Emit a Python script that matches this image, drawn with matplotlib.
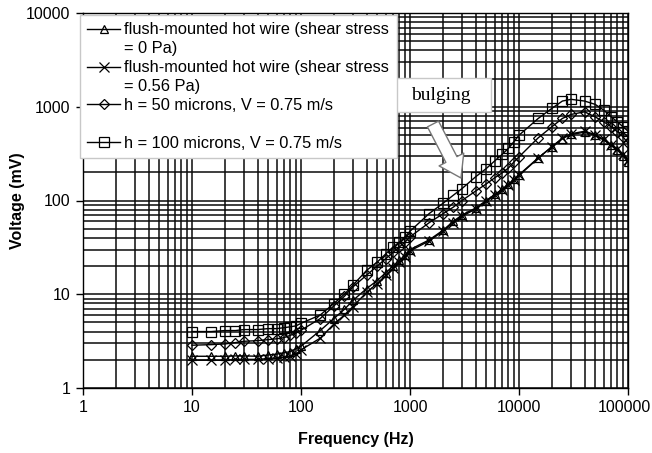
import matplotlib
matplotlib.use("Agg")
import matplotlib.pyplot as plt
from matplotlib.lines import Line2D
from matplotlib.patches import Rectangle
from matplotlib.transforms import ScaledTranslation
from matplotlib.ticker import LogLocator, NullFormatter

plt.rcParams["font.family"] = ["Liberation Sans", "DejaVu Sans"]

# frequency points (Hz), same for all four traces
freq = [10, 15, 20, 25, 30, 40, 50, 60, 70, 80, 90,
        100, 150, 200, 250, 300, 400, 500, 600, 700, 800, 900,
        1000, 1500, 2000, 2500, 3000, 4000, 5000, 6000, 7000, 8000, 9000,
        10000, 15000, 20000, 25000, 30000, 40000, 50000, 60000, 70000, 80000, 90000,
        100000]

# voltage (mV)
v_hw0 = [2.18, 2.18, 2.18, 2.2, 2.2, 2.18, 2.25, 2.3, 2.38, 2.45, 2.63,
         2.79, 4.1, 5.5, 6.9, 8.6, 11.5, 14.0, 17.0, 20.0, 23.0, 26.0,
         30.0, 38.0, 48.0, 60.0, 70.0, 83.0, 100.0, 116.0, 132.0, 150.0, 168.0,
         188.0, 285.0, 373.0, 458.0, 506.0, 535.0, 495.0, 440.0, 389.0, 344.0, 300.0,
         255.0]
v_hw056 = [1.98, 1.98, 1.97, 2.02, 2.02, 2.02, 2.06, 2.1, 2.13, 2.2, 2.3,
           2.55, 3.4, 4.8, 6.0, 7.4, 10.5, 13.0, 16.0, 19.0, 22.0, 25.0,
           29.0, 37.0, 47.0, 58.0, 68.0, 81.0, 98.0, 114.0, 130.0, 148.0, 166.0,
           185.0, 282.0, 375.0, 462.0, 515.0, 548.0, 505.0, 448.0, 395.0, 350.0, 310.0,
           268.0]
v_h50 = [2.86, 2.9, 2.95, 3.05, 3.15, 3.2, 3.28, 3.35, 3.45, 3.65, 3.85,
         4.13, 5.5, 7.5, 9.5, 12.0, 16.0, 20.0, 24.0, 28.0, 32.0, 36.0,
         41.0, 58.0, 72.0, 85.0, 100.0, 126.0, 150.0, 175.0, 197.0, 222.0, 258.0,
         292.0, 466.0, 611.0, 750.0, 828.0, 883.0, 780.0, 690.0, 611.0, 540.0, 477.0,
         410.0]
v_h100 = [4.0, 4.0, 4.1, 4.1, 4.2, 4.2, 4.3, 4.3, 4.4, 4.5, 4.6,
          4.9, 6.0, 7.95, 10.0, 12.5, 18.0, 22.0, 27.0, 32.0, 36.0, 41.0,
          47.0, 72.6, 93.0, 114.0, 134.0, 179.0, 219.0, 265.0, 310.0, 360.0, 425.0,
          497.0, 750.0, 960.0, 1150.0, 1200.0, 1150.0, 1060.0, 920.0, 780.0, 690.0, 611.0,
          550.0]

fig = plt.figure(figsize=(6.52, 4.53), dpi=100)
ax = fig.add_axes([83 / 652, 1 - 388 / 453, 545 / 652, 375 / 453])
ax.set_xscale("log")
ax.set_yscale("log")
ax.set_xlim(1, 1e5)
ax.set_ylim(1, 1e4)

mk = dict(color="black", lw=1.0, markerfacecolor="none", markeredgecolor="black",
          markeredgewidth=0.9)
ax.plot(freq, v_hw0, marker="^", ms=6, **mk, zorder=3)
ax.plot(freq, v_hw056, marker="x", ms=7, **mk, zorder=3)
ax.plot(freq, v_h50, marker="D", ms=5, **mk, zorder=3)
ax.plot(freq, v_h100, marker="s", ms=7.5, **mk, zorder=3)

# full major+minor grid like the Excel original
ax.xaxis.set_minor_locator(LogLocator(base=10, subs=range(2, 10), numticks=10))
ax.yaxis.set_minor_locator(LogLocator(base=10, subs=range(2, 10), numticks=10))
ax.xaxis.set_minor_formatter(NullFormatter())
ax.yaxis.set_minor_formatter(NullFormatter())
ax.set_xticks([1, 10, 100, 1000, 10000, 100000])
ax.set_xticklabels(["1", "10", "100", "1000", "10000", "100000"])
ax.set_yticks([1, 10, 100, 1000, 10000])
ax.set_yticklabels(["1", "10", "100", "1000", "10000"])
ax.grid(True, which="both", color="#0a0a0a", lw=1.1)
ax.set_axisbelow(True)
ax.tick_params(which="major", direction="out", length=5, width=1.0,
               labelsize=11.5, colors="black", pad=4)
ax.tick_params(which="minor", length=0)
for s in ax.spines.values():
    s.set_color("black")
    s.set_linewidth(1.0)

# last x label sits at the figure edge: nudge it in a few pixels
last = ax.xaxis.get_major_ticks()[-1].label1
last.set_transform(last.get_transform() + ScaledTranslation(-4 / 100, 0, fig.dpi_scale_trans))

ax.set_xlabel("Frequency (Hz)", fontsize=11.5, fontweight="bold", labelpad=12)
ax.set_ylabel("Voltage (mV)", fontsize=11.5, fontweight="bold")
ax.yaxis.set_label_coords((25 - 83) / 545, 0.5)

# legend: wrapped labels drawn as extra rows with blank handles
blank = Line2D([], [], color="none")
handles = [
    Line2D([], [], marker="^", ms=6, **mk), blank,
    Line2D([], [], marker="x", ms=7, **mk), blank,
    Line2D([], [], marker="D", ms=5, **mk), blank,
    Line2D([], [], marker="s", ms=7.5, **mk),
]
labels = ["flush-mounted hot wire (shear stress", "= 0 Pa)",
          "flush-mounted hot wire (shear stress", "= 0.56 Pa)",
          "h = 50 microns, V = 0.75 m/s", " ",
          "h = 100 microns, V = 0.75 m/s"]
leg = fig.legend(handles, labels, loc="upper left",
                 bbox_to_anchor=(80 / 652, 1 - 15 / 453), bbox_transform=fig.transFigure,
                 fontsize=11.8, frameon=True, fancybox=False, framealpha=1.0,
                 edgecolor="#c8c8c8", handlelength=2.0, handletextpad=0.25,
                 labelspacing=0.24, borderpad=0.45, borderaxespad=0)
leg.get_frame().set_linewidth(1.0)

# "bulging" callout with hollow arrow
fig.add_artist(Rectangle((392 / 652, 1 - 112 / 453), 99 / 652, 34 / 453,
                         transform=fig.transFigure, fc="white", ec="#c8c8c8",
                         lw=1.0, zorder=5))
fig.text(441 / 652, 1 - 96 / 453, "bulging", family="Liberation Serif", fontsize=14,
         ha="center", va="center", zorder=6)
ax.annotate("", xy=(461, 453 - 178), xycoords="figure pixels",
            xytext=(433, 453 - 124), textcoords="figure pixels",
            arrowprops=dict(arrowstyle="simple,head_width=2.0,head_length=1.5,tail_width=0.9",
                            fc="white", ec="#777777", lw=1.0, mutation_scale=10,
                            shrinkA=0, shrinkB=0))

fig.savefig("out.png", dpi=100)
